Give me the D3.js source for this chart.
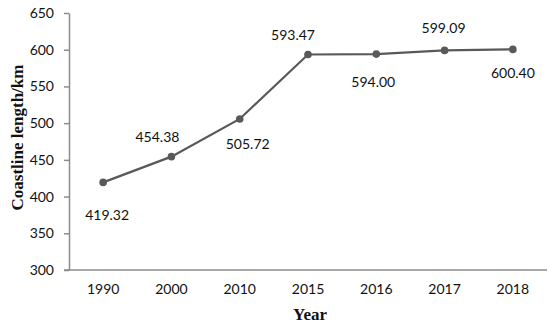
<!DOCTYPE html>
<html>
<head>
<meta charset="utf-8">
<script src="https://cdn.jsdelivr.net/npm/d3@7"></script>
<style>
  body { margin: 0; background: #fff; }
  .tick text { font-family: Lato, "Open Sans", sans-serif; font-size: 14px; fill: #111; }
  .axis-title { font-family: "Liberation Serif", "Times New Roman", serif; font-weight: bold; font-size: 17px; fill: #111; }
  .value-label { font-family: Lato, "Open Sans", sans-serif; font-size: 14px; fill: #111; }
</style>
</head>
<body>
<svg id="chart" width="550" height="328"></svg>
<script>
var years = ["1990", "2000", "2010", "2015", "2016", "2017", "2018"];
var coastline = [419.32, 454.38, 505.72, 593.47, 594.00, 599.09, 600.40];
var yTicks = [300, 350, 400, 450, 500, 550, 600, 650];

// where each value label sits relative to its point (px)
var labelOffsets = [[4, 33], [-14, -20], [8, 25], [-15, -19], [-3, 28], [-1, -22], [0, 24]];

var svg = d3.select("#chart");
var margin = { top: 13, right: 3, bottom: 58, left: 69 }
    , width = svg.attr("width") - margin.left - margin.right
    , height = svg.attr("height") - margin.top - margin.bottom;

var xScale = d3.scaleBand()
    .domain(years)
    .range([0, width]);

var yScale = d3.scaleLinear()
    .domain([300, 650])
    .range([height, 0]);

var g = svg.append("g")
    .attr("transform", `translate(${margin.left},${margin.top})`);

var axisColor = "#8c8c8c";

// y axis
var yAxis = g.append("g")
    .call(d3.axisLeft(yScale).tickValues(yTicks).tickSize(5).tickPadding(10).tickSizeOuter(0));
yAxis.select(".domain").attr("stroke", axisColor).attr("stroke-width", 1.5);
yAxis.selectAll(".tick line").attr("stroke", axisColor).attr("stroke-width", 1.5);

// x axis
var xAxis = g.append("g")
    .attr("transform", "translate(0," + height + ")")
    .call(d3.axisBottom(xScale).tickSize(0).tickPadding(14).tickSizeOuter(0));
xAxis.select(".domain").remove();
xAxis.append("line")
    .attr("x1", -5).attr("x2", width)
    .attr("stroke", axisColor).attr("stroke-width", 1.5);

// axis titles
g.append("text")
    .attr("class", "axis-title")
    .attr("x", width / 2 + 2)
    .attr("y", height + 50)
    .style("text-anchor", "middle")
    .text("Year");

g.append("text")
    .attr("class", "axis-title")
    .attr("transform", "rotate(-90)")
    .attr("x", -(height / 2) + 4)
    .attr("y", -46)
    .style("text-anchor", "middle")
    .text("Coastline length/km");

// line + points
var cx = function (d, i) { return xScale(years[i]) + xScale.bandwidth() / 2; };
var lineColor = "#595959";

var line = d3.line()
    .x(cx)
    .y(function (d) { return yScale(d); });

g.append("path")
    .datum(coastline)
    .attr("fill", "none")
    .attr("stroke", lineColor)
    .attr("stroke-width", 2.2)
    .attr("d", line);

g.selectAll(".dot")
    .data(coastline)
    .enter()
    .append("circle")
    .attr("cx", cx)
    .attr("cy", function (d) { return yScale(d); })
    .attr("r", 3.8)
    .attr("fill", lineColor);

g.selectAll(".value-label")
    .data(coastline)
    .enter()
    .append("text")
    .attr("class", "value-label")
    .attr("x", function (d, i) { return cx(d, i) + labelOffsets[i][0]; })
    .attr("y", function (d, i) { return yScale(d) + labelOffsets[i][1]; })
    .attr("dy", "0.35em")
    .style("text-anchor", "middle")
    .text(function (d) { return d.toFixed(2); });
</script>
</body>
</html>
